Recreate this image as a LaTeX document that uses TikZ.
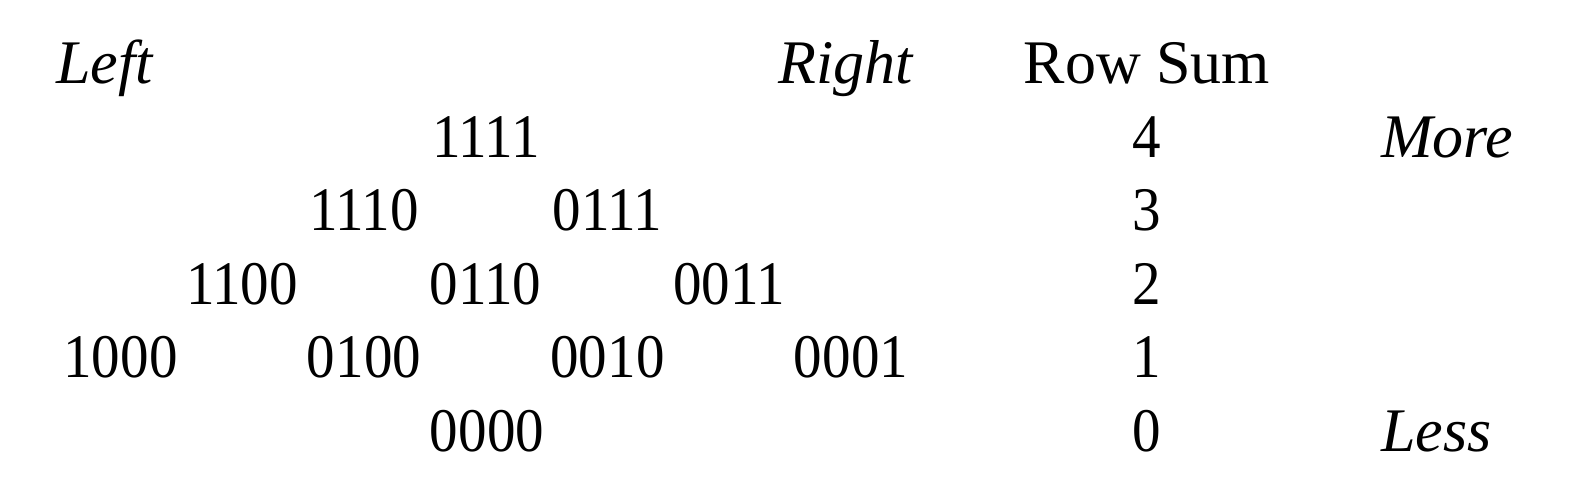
\documentclass[tikz,border=0pt]{standalone}
\usepackage{fontspec}
\setmainfont{Liberation Serif}
\newfontfamily\codefam[FakeStretch=0.92]{Liberation Serif}
\usepackage{tikz}

\begin{document}
\begin{tikzpicture}[x=1pt, y=-1pt]

  \newcommand{\bigsize}{\fontsize{62}{74}\selectfont}
  \tikzset{lbl/.style  = {inner sep=0pt, anchor=base, font=\bigsize},
           word/.style = {lbl, font=\bigsize\itshape},
           code/.style = {lbl, font=\codefam\bigsize}}
  \useasboundingbox (0,0) rectangle (1572,502);

  % headings
  \node[word, anchor=base west] (left)  at (56,84)  {Left};
  \node[word, anchor=base east] (right) at (913,84) {Right};
  \node[lbl] (rowsum) at (1147,84) {Row Sum};

  % the lattice, one row per sum
  \node[code] (c1111) at (486,157.5) {1111};
  \node[code] (c1110) at (364,231)   {1110};
  \node[code] (c0111) at (607.5,231) {0111};
  \node[code] (c1100) at (242,304.5)   {1100};
  \node[code] (c0110) at (485.5,304.5) {0110};
  \node[code] (c0011) at (729,304.5)   {0011};
  \node[code] (c1000) at (120.5,378) {1000};
  \node[code] (c0100) at (364,378)   {0100};
  \node[code] (c0010) at (607.5,378) {0010};
  \node[code] (c0001) at (851,378)   {0001};
  \node[code] (c0000) at (487,451.5) {0000};

  % row sums
  \node[code] (s4) at (1147,157.5) {4};
  \node[code] (s3) at (1147,231)   {3};
  \node[code] (s2) at (1147,304.5) {2};
  \node[code] (s1) at (1147,378)   {1};
  \node[code] (s0) at (1147,451.5) {0};

  \node[word, anchor=base west] (more) at (1381,157.5) {More};
  \node[word, anchor=base west] (less) at (1381,451.5) {Less};

\end{tikzpicture}
\end{document}
